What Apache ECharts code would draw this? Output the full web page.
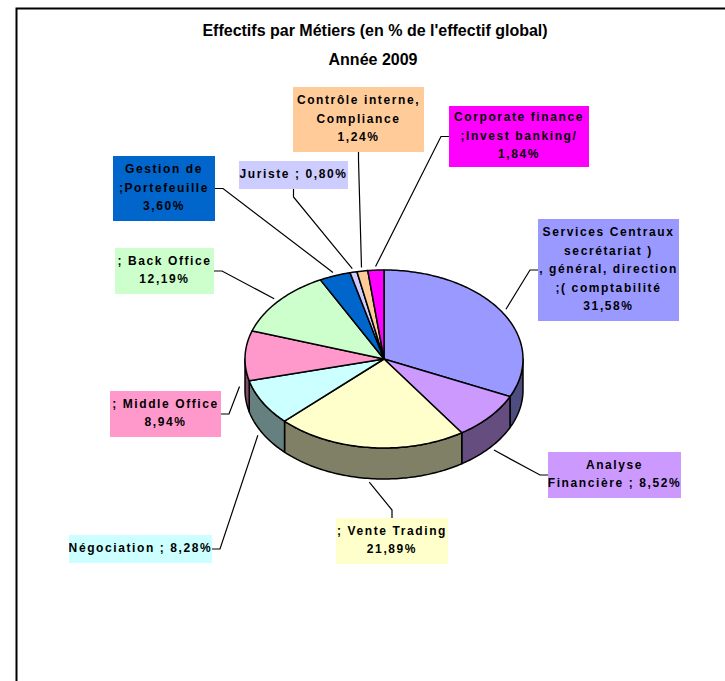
<!DOCTYPE html>
<html>
<head>
<meta charset="utf-8">
<title>Effectifs par Métiers 2009</title>
<script src="https://cdn.jsdelivr.net/npm/echarts@6/dist/echarts.min.js"></script>
<style>
html, body { margin: 0; padding: 0; background: #fff; }
#main { width: 725px; height: 681px; }
/* les étiquettes Excel sont très espacées */
#main text[style*="Arial"] { letter-spacing: 1.6px; }
</style>
</head>
<body>
<div id="main"></div>
<script>
// métiers, dans l'ordre du camembert (sens horaire depuis midi)
var names = [
  'Services Centraux\nsecrétariat )\n, général, direction\n;( comptabilité',
  'Analyse\nFinancière',
  '; Vente Trading',
  'Négociation',
  '; Middle Office',
  '; Back Office',
  'Gestion de\n;Portefeuille',
  'Juriste',
  'Contrôle interne,\nCompliance',
  'Corporate finance\n;Invest banking/'
]
// part de l'effectif global (%)
var values = [31.58, 8.52, 21.89, 8.28, 8.94, 12.19, 3.60, 0.80, 1.24, 1.84]
// séparateur nom / valeur dans l'étiquette
var separators = ['\n', ' ; ', '\n', ' ; ', '\n', '\n', '\n', ' ; ', '\n', '\n']

var colors = ['#9999FF', '#CC99FF', '#FFFFCC', '#CCFFFF', '#FF99CC', '#CCFFCC', '#0066CC', '#CCCCFF', '#FFCC99', '#FF00FF']

// position des cadres d'étiquettes : [x, y, largeur, hauteur, côté du trait]
var boxes = [
  [538, 219, 141, 102, 'left'],
  [548, 452, 133, 46, 'left'],
  [336, 518, 112, 46, 'top'],
  [69, 535, 143, 28, 'right'],
  [110, 391, 111, 46, 'right'],
  [115, 248, 99, 46, 'right'],
  [113, 156, 102, 65, 'right'],
  [239, 161, 109, 28, 'bottom'],
  [293, 87, 131, 65, 'bottom'],
  [449, 106, 140, 61, 'left']
]

// géométrie du camembert 3D
var cx = 384, cy = 359, rx = 139, ry = 89, depth = 31

var total = values.reduce(function (a, b) { return a + b }, 0)
var starts = []
var acc = 0
for (var i = 0; i < values.length; i++) {
  starts.push(acc)
  acc += values[i]
}

function darken (hex) {
  var n = parseInt(hex.slice(1), 16)
  var r = Math.round(((n >> 16) & 255) / 2)
  var g = Math.round(((n >> 8) & 255) / 2)
  var b = Math.round((n & 255) / 2)
  return 'rgb(' + r + ',' + g + ',' + b + ')'
}

function pt (a, k, dy) {
  return [cx + rx * k * Math.cos(a), cy + ry * k * Math.sin(a) + (dy || 0)]
}

function arc (a0, a1, dy) {
  var pts = []
  var n = Math.max(2, Math.ceil((a1 - a0) / (Math.PI / 180)))
  for (var j = 0; j <= n; j++) {
    pts.push(pt(a0 + (a1 - a0) * j / n, 1, dy))
  }
  return pts
}

function formatValue (v) {
  return v.toFixed(2).replace('.', ',') + '%'
}

function renderSlice (params, api) {
  var i = params.dataIndex
  var a0 = -Math.PI / 2 + starts[i] / total * Math.PI * 2
  var a1 = a0 + api.value(0) / total * Math.PI * 2
  var children = []

  // dessus de la part
  children.push({
    type: 'polygon',
    z2: 3,
    shape: { points: [[cx, cy]].concat(arc(a0, a1, 0)) },
    style: { fill: colors[i], stroke: '#000', lineWidth: 1.5, lineJoin: 'round' }
  })

  // tranche visible (moitié avant)
  var s = Math.max(a0, 0)
  var e = Math.min(a1, Math.PI)
  if (e > s) {
    var wall = arc(s, e, 0).concat(arc(s, e, depth).reverse())
    children.push({
      type: 'polygon',
      z2: 2,
      shape: { points: wall },
      style: { fill: darken(colors[i]), stroke: '#000', lineWidth: 1.5, lineJoin: 'round' }
    })
  }

  // trait de rappel
  var mid = (a0 + a1) / 2
  var front = Math.sin(mid) > -0.2
  var anchor = pt(mid, 1.04, front ? depth : 0)
  var b = boxes[i]
  var p1, p2
  if (b[4] === 'left') {
    p1 = [b[0], b[1] + b[3] / 2]; p2 = [b[0] - 8, b[1] + b[3] / 2]
  } else if (b[4] === 'right') {
    p1 = [b[0] + b[2], b[1] + b[3] / 2]; p2 = [b[0] + b[2] + 8, b[1] + b[3] / 2]
  } else if (b[4] === 'top') {
    p1 = [b[0] + b[2] / 2, b[1]]; p2 = [b[0] + b[2] / 2, b[1] - 8]
  } else {
    p1 = [b[0] + b[2] / 2, b[1] + b[3]]; p2 = [b[0] + b[2] / 2, b[1] + b[3] + 8]
  }
  children.push({
    type: 'polyline',
    z2: 1,
    shape: { points: [p1, p2, anchor] },
    style: { stroke: '#000', lineWidth: 1.2, fill: null }
  })

  // cadre + texte
  children.push({
    type: 'rect',
    z2: 4,
    shape: { x: b[0], y: b[1], width: b[2], height: b[3] },
    style: { fill: colors[i] }
  })
  children.push({
    type: 'text',
    z2: 5,
    clipPath: { type: 'rect', shape: { x: b[0], y: b[1], width: b[2], height: b[3] } },
    style: {
      x: b[0] + b[2] / 2,
      y: b[1] + b[3] / 2 - 1,
      text: names[i] + separators[i] + formatValue(values[i]),
      align: 'center',
      verticalAlign: 'middle',
      fontFamily: 'Arial',
      fontWeight: 'bold',
      fontSize: 12,
      lineHeight: 18.5,
      fill: '#000'
    }
  })

  return { type: 'group', children: children }
}

var chart = echarts.init(document.getElementById('main'), null, { renderer: 'svg' })
chart.setOption({
  backgroundColor: '#fff',
  animation: false,
  title: [
    {
      text: "Effectifs par Métiers (en % de l'effectif global)",
      left: 370,
      top: 17,
      textAlign: 'center',
      textStyle: { fontFamily: "'Liberation Sans Narrow', sans-serif", fontSize: 16, fontWeight: 'bold', color: '#000' }
    },
    {
      text: 'Année 2009',
      left: 368,
      top: 46,
      textAlign: 'center',
      textStyle: { fontFamily: "'Liberation Sans Narrow', sans-serif", fontSize: 16, fontWeight: 'bold', color: '#000' }
    }
  ],
  graphic: [{
    type: 'polyline',
    shape: { points: [[16.5, 681], [16.5, 8.5], [725, 8.5]] },
    style: { stroke: '#000', lineWidth: 2, fill: null }
  }],
  series: [{
    type: 'custom',
    coordinateSystem: 'none',
    renderItem: renderSlice,
    data: values
  }]
})
</script>
</body>
</html>
